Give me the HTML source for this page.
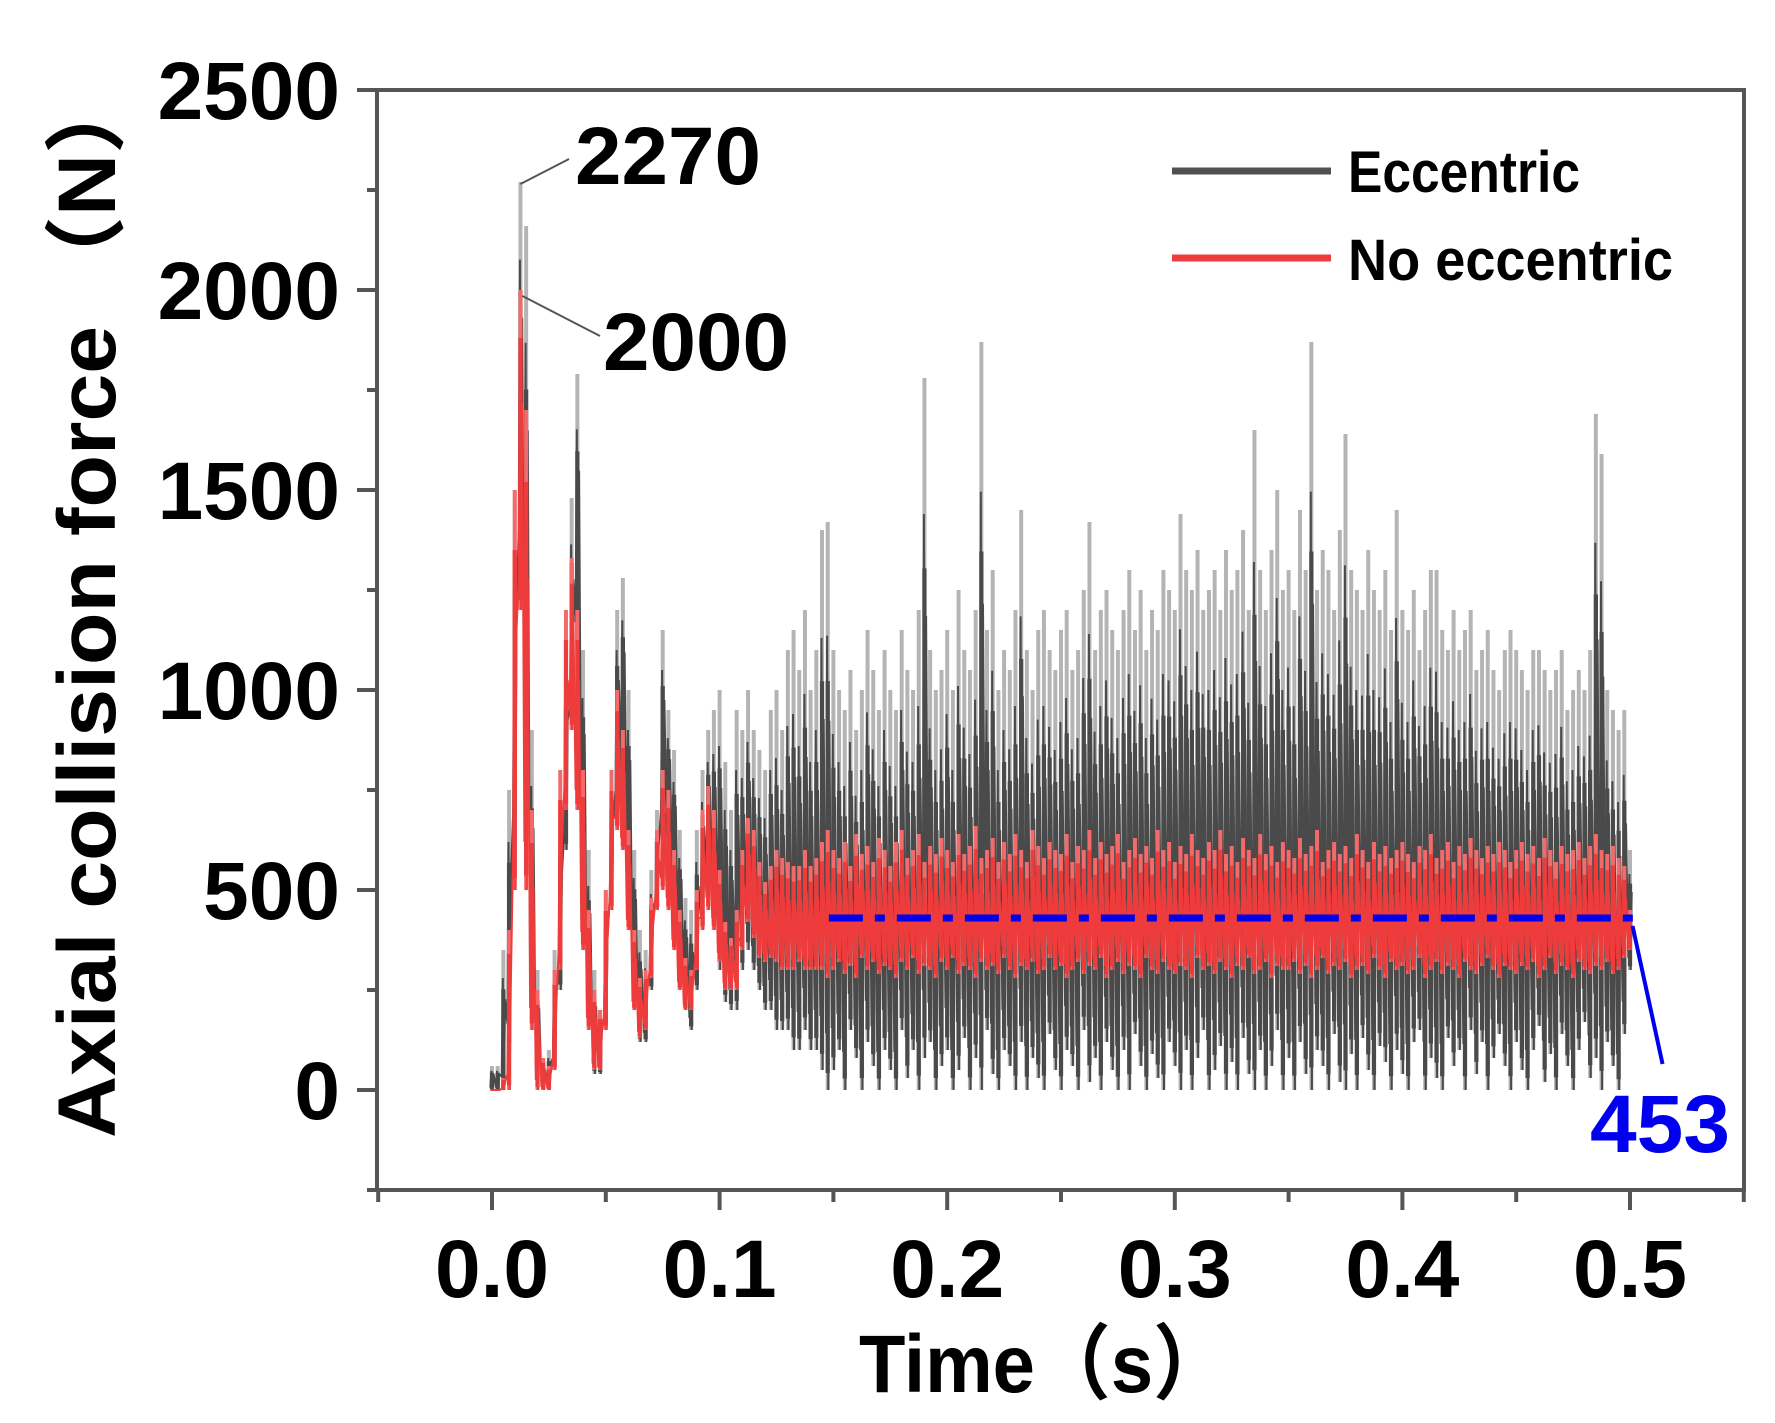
<!DOCTYPE html>
<html><head><meta charset="utf-8"><style>
html,body{margin:0;padding:0;background:#fff;}
svg{display:block;font-family:"Liberation Sans","Noto Sans CJK SC",sans-serif;font-weight:bold;}
</style></head>
<body>
<svg id="chart" width="1775" height="1423" viewBox="0 0 1775 1423" xmlns="http://www.w3.org/2000/svg">
<g id="series"></g>
<g id="axes"></g>
<g id="texts"></g>
</svg>
<script>
// ---- data ----
const timeStep = 0.0025; // s per bin
const eccHi = [60,60,350,750,1500,2270,2160,900,300,80,100,350,700,1100,1480,1790,1100,600,300,200,
500,800,1200,1280,1000,600,400,350,550,700,1150,950,850,650,480,450,650,800,900,950,
1000,820,700,950,900,1000,900,850,800,950,1000,900,1100,1150,1050,1200,1000,1100,1400,1420,
1100,1000,950,1050,900,1000,1150,1050,950,1100,1000,950,1150,1050,1000,1200,1780,1100,1000,1050,
1150,1000,1250,1100,1050,1200,1870,1150,1300,1000,1100,1050,1200,1450,1100,1000,1150,1200,1100,1050,
1150,1200,1050,1100,1250,1420,1100,1200,1250,1150,1100,1200,1300,1150,1250,1100,1200,1150,1300,1250,
1200,1440,1300,1250,1350,1200,1250,1300,1200,1350,1250,1300,1400,1200,1650,1300,1200,1350,1500,1250,
1300,1200,1450,1300,1870,1250,1350,1300,1200,1400,1640,1300,1250,1200,1350,1250,1200,1300,1150,1450,
1200,1150,1250,1100,1200,1300,1300,1150,1100,1200,1100,1150,1200,1050,1100,1150,1050,1000,1100,1150,
1100,1050,1000,1100,1100,1050,1000,1050,1100,950,1000,1050,1000,1100,1690,1590,1000,950,900,950,600];
const eccLo = [0,0,0,100,600,1300,700,200,30,0,0,50,250,600,900,1100,500,150,40,40,
150,450,700,750,500,250,120,120,250,450,650,600,450,300,200,150,250,400,500,400,
300,220,200,200,300,350,300,250,200,200,150,150,150,100,100,150,100,100,50,0,
50,100,0,150,80,0,120,60,0,100,50,0,150,30,100,0,80,120,0,60,
100,0,50,130,0,80,0,150,40,0,100,60,0,120,0,80,30,0,140,50,
0,100,60,0,150,20,80,0,120,50,0,100,0,140,60,0,90,30,0,120,
60,0,100,0,80,150,0,50,110,0,70,0,130,40,0,100,0,60,150,0,
80,0,120,40,0,100,60,0,140,20,0,90,0,130,50,0,110,70,0,100,
40,0,120,150,0,80,30,0,130,60,100,0,150,40,120,0,80,140,60,0,
120,50,0,100,160,20,90,0,140,60,0,100,170,30,80,0,120,60,0,140,300];
const noHi = [0,0,30,400,1500,2000,1700,700,250,80,60,300,800,1200,1330,1200,800,450,250,200,
500,800,1000,900,650,400,280,300,480,650,800,750,600,450,330,300,500,700,760,700,
550,420,380,450,600,680,650,570,520,560,600,580,570,560,560,600,560,580,620,650,
600,580,620,560,640,590,610,570,630,600,560,620,650,580,600,640,570,610,590,630,
600,570,640,590,610,660,580,600,630,570,620,590,640,600,570,650,610,580,620,600,
590,640,570,610,600,650,580,620,590,610,640,570,600,630,590,610,580,650,600,620,
570,610,590,640,600,580,620,600,650,590,610,570,630,600,580,640,590,610,570,620,
600,580,630,590,610,650,570,600,620,590,610,580,640,600,570,620,590,610,580,600,
620,590,570,610,600,640,580,600,620,570,610,590,630,600,580,610,590,620,600,570,
600,620,590,610,580,630,600,570,610,590,600,620,580,610,640,600,590,610,580,560,450];
const noLo = [0,0,0,0,500,1200,500,150,0,0,0,50,300,700,900,700,350,150,50,50,
150,450,650,600,400,200,130,150,280,450,500,450,350,250,200,200,300,400,450,400,
320,250,250,250,350,420,380,330,320,330,320,300,300,300,320,300,300,300,300,280,
300,320,290,310,280,330,300,320,290,310,300,280,320,300,330,290,310,300,280,320,
300,330,290,310,300,280,320,300,310,290,330,300,280,310,300,320,290,300,330,300,
310,280,300,320,290,310,300,330,280,300,320,290,310,300,280,330,300,290,320,300,
290,310,300,280,330,300,310,290,320,300,280,310,300,330,290,300,320,280,310,300,
300,320,290,310,280,300,330,290,310,300,320,280,300,310,290,330,300,280,320,300,
310,290,300,330,280,300,320,290,310,300,280,320,300,290,310,330,300,280,310,300,
290,310,300,320,280,300,330,290,310,300,280,320,300,290,310,300,320,290,300,330,350];
const meanLine = [0.148, 0.502];
const meanValue = 430;
const meanLabel = "453";
const peakLabels = ["2270","2000"];
const peakValues = [2270, 2000];
const peakTimes = [0.0125, 0.0125];
const xTicks = [0.0,0.1,0.2,0.3,0.4,0.5];
const xTickLabels = ["0.0","0.1","0.2","0.3","0.4","0.5"];
const yTicks = [0,500,1000,1500,2000,2500];
const yTickLabels = ["0","500","1000","1500","2000","2500"];

// ---- scales ----
const X0 = 377, X1 = 1744, Y0 = 90, Y1 = 1190;
function sx(t){ return 492 + t*2276; }
function sy(v){ return 1090 - v*0.4; }
const NS = "http://www.w3.org/2000/svg";
function mk(tag, attrs, parent){
  const e = document.createElementNS(NS, tag);
  for (const k in attrs) e.setAttribute(k, attrs[k]);
  parent.appendChild(e); return e;
}
const gS = document.getElementById('series');
const gA = document.getElementById('axes');
const gT = document.getElementById('texts');

function drawSeries(hi, lo, lightColor, darkColor, name, coreFrac){
  const g = mk('g', {}, gS);
  
  
  const bw = timeStep*2276;
  for (let i=0;i<hi.length;i++){
    const x = sx(i*timeStep);
    const r = mk('line', {x1:x, x2:x, y1:sy(lo[i]), y2:sy(hi[i]), stroke:lightColor, 'stroke-width':bw*0.7}, g);
    
    
  }
  for (let i=0;i<hi.length;i++){
    const x = sx(i*timeStep);
    const span = hi[i]-lo[i];
    const r = mk('line', {x1:x, x2:x, y1:sy(lo[i]+span*0.03), y2:sy(lo[i]+span*coreFrac), stroke:darkColor, 'stroke-width':bw*0.75}, g);
    
    
  }
  let pts = [];
  for (let i=0;i<hi.length;i++){
    const x = sx(i*timeStep);
    const span = hi[i]-lo[i];
    pts.push((x - bw*0.3).toFixed(1)+','+sy(lo[i] + span*0.1).toFixed(1));
    pts.push((x - bw*0.1).toFixed(1)+','+sy(hi[i] - span*0.2).toFixed(1));
    pts.push((x + bw*0.1).toFixed(1)+','+sy(lo[i]).toFixed(1));
    pts.push((x + bw*0.3).toFixed(1)+','+sy(hi[i] - span*0.35).toFixed(1));
  }
  const pl = mk('polyline', {points:pts.join(' '), fill:'none', stroke:darkColor, 'stroke-width':2}, g);
  
  
}
drawSeries(eccHi, eccLo, '#b4b4b4', '#4a4a4a', 'eccentric-series', 0.72);
drawSeries(noHi, noLo, '#f46a6a', '#ee3b3b', 'no-eccentric-series', 0.85);

const ml = mk('line', {x1:sx(meanLine[0]), x2:sx(meanLine[1]), y1:sy(meanValue), y2:sy(meanValue), stroke:'#0000ee', 'stroke-width':7, 'stroke-dasharray':'34,12,10,12'}, gS);


const ml2 = mk('line', {x1:sx(meanLine[1])-2, y1:sy(meanValue)+8, x2:sx(meanLine[1])+28, y2:1064, stroke:'#0000ee', 'stroke-width':4}, gS);


const mlt = mk('text', {x:1590, y:1152, 'font-size':82, fill:'#0000ee', textLength:140, lengthAdjust:'spacingAndGlyphs'}, gT);
mlt.textContent = meanLabel;



const peakLabelPos = [[575,184,569,159],[603,370,600,336]];
for (let i=0;i<peakLabels.length;i++){
  const p = peakLabelPos[i];
  const l = mk('line', {x1:sx(peakTimes[i])+ (i?2:0), y1:sy(peakValues[i])+(i?6:2), x2:p[2], y2:p[3], stroke:'#555', 'stroke-width':2}, gT);
  
  
  const t = mk('text', {x:p[0], y:p[1], 'font-size':82, fill:'#000', textLength:186, lengthAdjust:'spacingAndGlyphs'}, gT);
  t.textContent = peakLabels[i];
  
  
}

const frame = mk('rect', {x:X0, y:Y0, width:X1-X0, height:Y1-Y0, fill:'none', stroke:'#555', 'stroke-width':4}, gA);


for (let t=-0.05; t<=0.5501; t+=0.05){
  const major = Math.abs(Math.round(t*10)-t*10) < 1e-6;
  const tk = mk('line', {x1:sx(t), x2:sx(t), y1:Y1, y2:Y1+(major?20:12), stroke:'#555', 'stroke-width':4}, gA);
  
  
}
for (let i=0;i<xTicks.length;i++){
  const t = mk('text', {x:sx(xTicks[i]), y:1297, 'font-size':82, 'text-anchor':'middle', fill:'#000'}, gT);
  t.textContent = xTickLabels[i];
  
  
}
for (let v=-250; v<=2500; v+=250){
  const major = v%500===0;
  const tk = mk('line', {x1:X0-(major?20:10), x2:X0, y1:sy(v), y2:sy(v), stroke:'#555', 'stroke-width':4}, gA);
  
  
}
for (let i=0;i<yTicks.length;i++){
  const t = mk('text', {x:340, y:sy(yTicks[i])+29, 'font-size':82, 'text-anchor':'end', fill:'#000'}, gT);
  t.textContent = yTickLabels[i];
  
  
}
const xt = mk('text', {x:859, y:1392, 'font-size':82, fill:'#000', textLength:370, lengthAdjust:'spacingAndGlyphs'}, gT);
xt.textContent = 'Time（s）';


const yt = mk('text', {x:0, y:0, 'font-size':82, fill:'#000', 'text-anchor':'middle', textLength:1070, lengthAdjust:'spacingAndGlyphs', transform:'translate(115,603) rotate(-90)'}, gT);
yt.textContent = 'Axial collision force （N）';



const leg = mk('g', {}, gT);


const legItems = [['Eccentric','#505050',171,188,232],['No eccentric','#ee3b3b',258,276,325]];
for (const it of legItems){
  const ln = mk('line', {x1:1172, x2:1331, y1:it[2], y2:it[2], stroke:it[1], 'stroke-width':7}, leg);
  
  
  const tx = mk('text', {x:1348, y:it[3]+4, 'font-size':58, fill:'#000', textLength:it[4], lengthAdjust:'spacingAndGlyphs'}, leg);
  tx.textContent = it[0];
  
  
}
</script>
</body></html>
